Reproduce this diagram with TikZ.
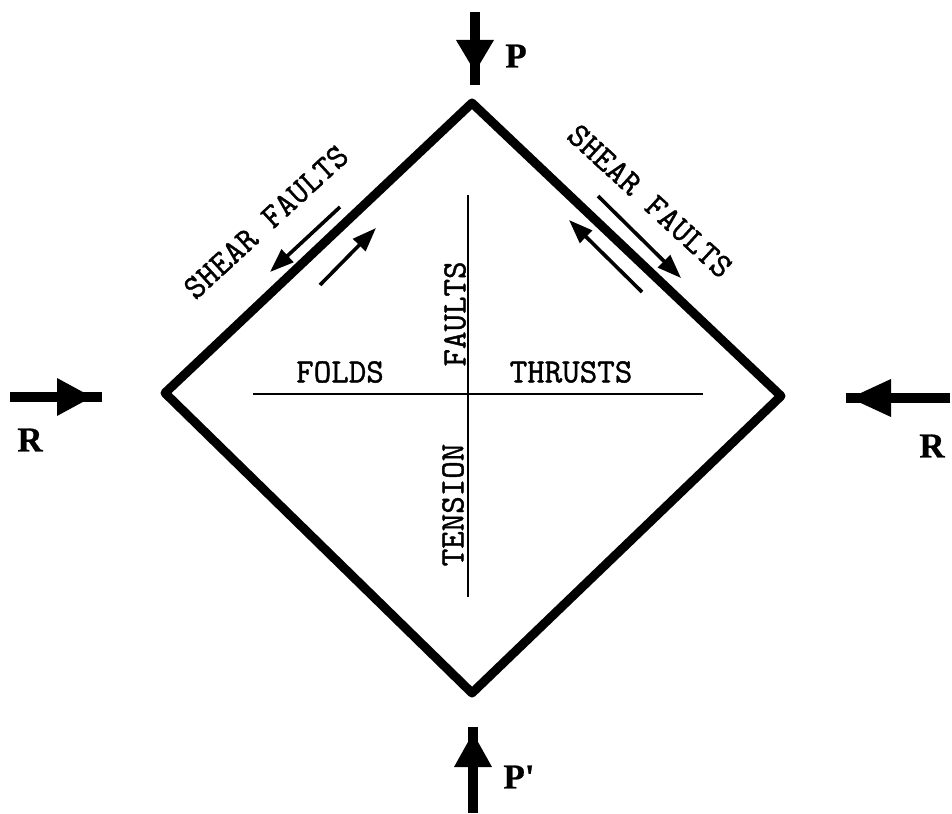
\documentclass[tikz,border=0pt]{standalone}
\usepackage{fontspec}
\setmainfont{Liberation Serif}
\newfontfamily\twfont[FakeBold=1.2]{Latin Modern Mono}
\newfontfamily\forcefont[FakeBold=0.8]{Liberation Serif Bold}
\usetikzlibrary{arrows.meta}
\begin{document}
\begin{tikzpicture}[x=1pt,y=-1pt,
  frame/.style={line width=9pt,line join=round},
  axis/.style={line width=2.6pt},
  lab/.style={font=\fontsize{34}{34}\selectfont\twfont,inner sep=0pt},
  force/.style={font=\fontsize{35}{35}\selectfont\forcefont,inner sep=0pt},
  shaft/.style={line width=10pt},
  head/.style={fill=black},
  shear/.style={line width=3.6pt,-{Triangle[length=24pt,width=17pt]}}]
\useasboundingbox (0,0) rectangle (952,813);
% diamond
\coordinate (T) at (472,103);
\coordinate (Rt) at (781,396);
\coordinate (B) at (472,693);
\coordinate (L) at (165,393);
\draw[frame] (T) -- (Rt) -- (B) -- (L) -- cycle;
% axes
\coordinate (hl) at (253,394);
\coordinate (hr) at (703,394);
\coordinate (vt) at (468,195);
\coordinate (vb) at (468,597);
\draw[axis] (hl) -- (hr);
\draw[axis] (vt) -- (vb);
% labels
\node[lab] (folds) at (340,372) {FOLDS};
\node[lab] (thrusts) at (571,372) {THRUSTS};
\node[lab,rotate=90] (faults) at (455,314) {FAULTS};
\node[lab,rotate=90] (tension) at (453,505) {TENSION};
\node[lab,rotate=42.5] (sfl) at (266,222) {SHEAR FAULTS};
\node[lab,rotate=-42.5] (sfr) at (650,201) {SHEAR FAULTS};
% shear arrows
\coordinate (a1s) at (340,207);
\coordinate (a1e) at (270,272);
\coordinate (a2s) at (320,285);
\coordinate (a2e) at (376,228);
\coordinate (a3s) at (598,196);
\coordinate (a3e) at (681,278);
\coordinate (a4s) at (642,292);
\coordinate (a4e) at (569,220);
\draw[shear] (a1s) -- (a1e);
\draw[shear] (a2s) -- (a2e);
\draw[shear] (a3s) -- (a3e);
\draw[shear] (a4s) -- (a4e);
% force arrows
\node[force] (P) at (516,56) {P};
\node[force] (Pp) at (519,777) {P\textquotesingle};
\node[force] (RL) at (30,440) {R};
\node[force] (RR) at (932,446) {R};
% P top
\coordinate (pt1) at (475,12);
\coordinate (pt2) at (475,85);
\draw[shaft] (pt1) -- (pt2);
\fill[head] (456,40) -- (494,40) -- (475,72) -- cycle;
% P' bottom
\coordinate (pb1) at (473,727);
\coordinate (pb2) at (473,813);
\draw[shaft] (pb1) -- (pb2);
\fill[head] (454,767) -- (492,767) -- (473,733) -- cycle;
% R left
\coordinate (rl1) at (10,397);
\coordinate (rl2) at (102,397);
\draw[shaft] (rl1) -- (rl2);
\fill[head] (57,378) -- (57,416) -- (92,397) -- cycle;
% R right
\coordinate (rr1) at (846,398);
\coordinate (rr2) at (950,398);
\draw[shaft] (rr1) -- (rr2);
\fill[head] (891,379) -- (891,417) -- (850,398) -- cycle;
\end{tikzpicture}
\end{document}
